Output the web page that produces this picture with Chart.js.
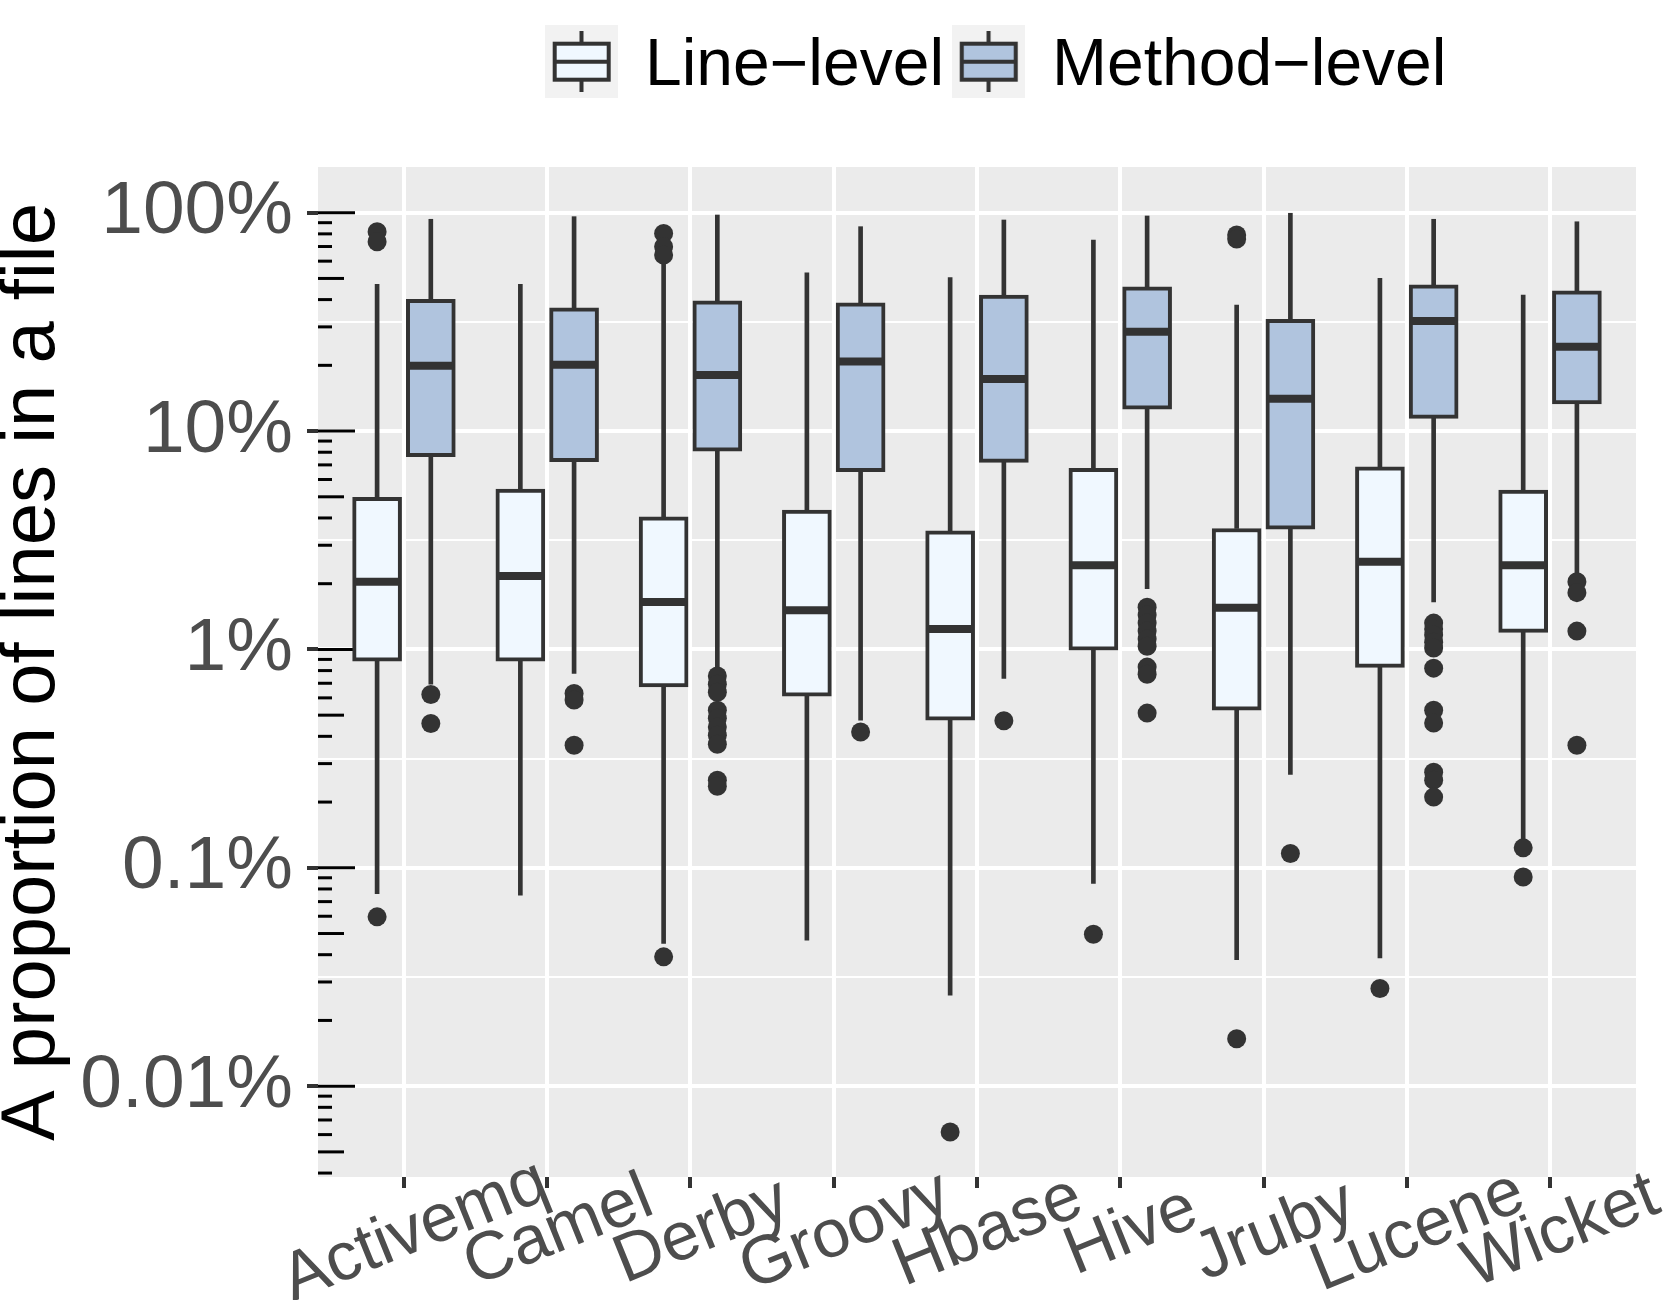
<!DOCTYPE html>
<html>
<head>
<meta charset="utf-8">
<title>Line-level vs Method-level proportions</title>
<script src="https://cdn.jsdelivr.net/npm/chart.js@4.4.0/dist/chart.umd.min.js"></script>
<style>
  html, body { margin: 0; padding: 0; background: #ffffff; }
  #wrap { width: 1667px; height: 1300px; position: relative; }
</style>
</head>
<body>
<div id="wrap"><canvas id="chart"></canvas></div>
<script>
// --- data (values in % of lines in a file) ---
const projects = ['Activemq', 'Camel', 'Derby', 'Groovy', 'Hbase', 'Hive', 'Jruby', 'Lucene', 'Wicket'];
const seriesNames = ['Line\u2212level', 'Method\u2212level'];

// Line-level boxes
const lineLow    = [0.0762, 0.0749, 0.045, 0.0466, 0.0261, 0.0847, 0.038, 0.0387, 0.136];
const lineQ1     = [0.884, 0.884, 0.674, 0.611, 0.474, 0.993, 0.527, 0.827, 1.197];
const lineMedian = [2.04, 2.17, 1.65, 1.51, 1.24, 2.43, 1.55, 2.52, 2.43];
const lineQ3     = [4.97, 5.42, 4.05, 4.35, 3.49, 6.75, 3.58, 6.86, 5.37];
const lineHigh   = [47.0, 47.0, 59.5, 53.1, 50.4, 75.0, 37.8, 50.1, 42.0];
const lineOutliers = [
    [81.8, 73.6, 0.0596],
    [],
    [80.4, 69.9, 64.0, 0.0391],
    [],
    [0.00617],
    [0.0496],
    [79.0, 75.8, 0.0165],
    [0.028],
    [0.1234, 0.0908]
];

// Method-level boxes
const methodLow    = [0.693, 0.776, 0.804, 0.474, 0.737, 1.90, 0.268, 1.65, 2.23];
const methodQ1     = [7.63, 7.24, 8.10, 6.51, 7.19, 12.6, 3.55, 11.43, 13.3];
const methodMedian = [19.9, 20.1, 18.05, 20.8, 17.3, 28.5, 14.06, 31.9, 24.3];
const methodQ3     = [40.1, 36.7, 39.5, 38.7, 42.0, 45.8, 32.5, 46.7, 43.9];
const methodHigh   = [93.3, 95.9, 97.6, 86.3, 92.6, 96.6, 99.4, 93.3, 90.9];
const methodOutliers = [
    [0.622, 0.458],
    [0.629, 0.586, 0.364],
    [0.755, 0.693, 0.637, 0.527, 0.484, 0.441, 0.405, 0.368, 0.252, 0.236],
    [0.419],
    [0.471],
    [1.56, 1.436, 1.32, 1.213, 1.115, 1.035, 0.830, 0.770, 0.511],
    [0.1163],
    [1.32, 1.24, 1.163, 1.08, 1.014, 0.821, 0.527, 0.46, 0.274, 0.252, 0.2107],
    [2.04, 1.82, 1.213, 0.364]
];

// y axis
const yTicks = [0.01, 0.1, 1, 10, 100];
const yTickLabels = ['0.01%', '0.1%', '1%', '10%', '100%'];
const yMinorGrid = [0.0316, 0.316, 3.16, 31.6];

// --- styling ---
const FONT = '"Liberation Sans", Arial, Helvetica, sans-serif';
const DARK = '#333333';
const FILLS = ['#F0F8FF', '#B0C4DE'];
const DODGE = 0.1875;
const BOX_W = 49;

Chart.defaults.font.family = FONT;

// --- helpers to turn the stats into chart points ---
function whiskers(off, low, q1, q3, high) {
    const pts = [];
    projects.forEach((_, i) => {
        pts.push({ x: i + off, y: [low[i], q1[i]] });
        pts.push({ x: i + off, y: [q3[i], high[i]] });
    });
    return pts;
}
function boxes(off, q1, q3) {
    return projects.map((_, i) => ({ x: i + off, y: [q1[i], q3[i]] }));
}
function medians(off, med) {
    return projects.map((_, i) => ({ x: i + off, y: med[i] }));
}
function outliers(off, groups) {
    return groups.flatMap((vals, i) => vals.map(v => ({ x: i + off, y: v })));
}
function isDecade(v) {
    const l = Math.log10(v);
    return Math.abs(l - Math.round(l)) < 1e-6;
}

// legend key glyph (boxplot symbol on a grey key)
function makeKey(fill) {
    const c = document.createElement('canvas');
    c.width = 73; c.height = 73;
    const g = c.getContext('2d');
    g.fillStyle = '#F2F2F2';
    g.fillRect(0, 0, 73, 73);
    g.strokeStyle = DARK;
    g.lineWidth = 4;
    g.beginPath(); g.moveTo(36.5, 6); g.lineTo(36.5, 67); g.stroke();
    g.fillStyle = fill;
    g.fillRect(9.7, 18.7, 54, 36);
    g.strokeRect(9.7, 18.7, 54, 36);
    g.beginPath(); g.moveTo(9.7, 36.7); g.lineTo(63.7, 36.7); g.stroke();
    return c;
}
const keys = FILLS.map(makeKey);

// --- plugins ---
const panelBg = {
    id: 'panelBg',
    beforeDraw(chart) {
        const { ctx, chartArea: a } = chart;
        ctx.save();
        ctx.fillStyle = '#EBEBEB';
        ctx.fillRect(a.left, a.top, a.right - a.left, a.bottom - a.top);
        ctx.restore();
    }
};

// log ticks drawn inside the panel on the left edge
const logTicks = {
    id: 'logTicks',
    beforeDatasetsDraw(chart) {
        const { ctx, chartArea } = chart;
        const y = chart.scales.y;
        ctx.save();
        ctx.strokeStyle = '#000000';
        ctx.lineWidth = 3;
        for (let e = -3; e <= 2; e++) {
            for (let m = 1; m <= 9; m++) {
                const v = m * Math.pow(10, e);
                if (v < y.min || v > y.max) continue;
                const py = y.getPixelForValue(v);
                const len = m === 1 ? 37 : (m === 5 ? 26 : 14);
                ctx.beginPath();
                ctx.moveTo(chartArea.left, py);
                ctx.lineTo(chartArea.left + len, py);
                ctx.stroke();
            }
        }
        ctx.restore();
    }
};

// rotated category labels, centred under each tick
const xLabels = {
    id: 'xLabels',
    afterDraw(chart) {
        const { ctx, chartArea } = chart;
        const x = chart.scales.x;
        ctx.save();
        ctx.font = '68px ' + FONT;
        ctx.fillStyle = '#4D4D4D';
        ctx.textAlign = 'center';
        ctx.textBaseline = 'alphabetic';
        projects.forEach((name, i) => {
            ctx.save();
            ctx.translate(x.getPixelForValue(i), chartArea.bottom + 27);
            ctx.rotate(-22 * Math.PI / 180);
            ctx.fillText(name, 0, 49);
            ctx.restore();
        });
        ctx.restore();
    }
};

// legend on top: boxplot key + label for each series
const legendKeys = {
    id: 'legendKeys',
    afterDraw(chart) {
        const { ctx } = chart;
        ctx.save();
        ctx.font = '66px ' + FONT;
        ctx.fillStyle = '#000000';
        ctx.textAlign = 'left';
        ctx.textBaseline = 'alphabetic';
        let x = 545;
        seriesNames.forEach((name, i) => {
            ctx.drawImage(keys[i], x, 25);
            ctx.fillText(name, x + 100, 85);
            x += 100 + ctx.measureText(name).width + 8;
        });
        ctx.restore();
    }
};

// --- chart ---
const barBase = { type: 'bar', grouped: false, xAxisID: 'x', yAxisID: 'y', borderSkipped: false };

new Chart(document.getElementById('chart'), {
    type: 'bar',
    data: {
        datasets: [
            { ...barBase, label: 'Line whiskers', data: whiskers(-DODGE, lineLow, lineQ1, lineQ3, lineHigh),
              backgroundColor: DARK, barThickness: 4, borderWidth: 0, order: 4 },
            { ...barBase, label: 'Method whiskers', data: whiskers(DODGE, methodLow, methodQ1, methodQ3, methodHigh),
              backgroundColor: DARK, barThickness: 4, borderWidth: 0, order: 4 },
            { ...barBase, label: seriesNames[0], data: boxes(-DODGE, lineQ1, lineQ3),
              backgroundColor: FILLS[0], borderColor: DARK, borderWidth: 4, barThickness: BOX_W, order: 3 },
            { ...barBase, label: seriesNames[1], data: boxes(DODGE, methodQ1, methodQ3),
              backgroundColor: FILLS[1], borderColor: DARK, borderWidth: 4, barThickness: BOX_W, order: 3 },
            { type: 'scatter', label: 'Line median', data: medians(-DODGE, lineMedian), xAxisID: 'x', yAxisID: 'y',
              pointStyle: 'line', pointRadius: 23, pointBorderWidth: 8, pointBorderColor: DARK, order: 2 },
            { type: 'scatter', label: 'Method median', data: medians(DODGE, methodMedian), xAxisID: 'x', yAxisID: 'y',
              pointStyle: 'line', pointRadius: 23, pointBorderWidth: 8, pointBorderColor: DARK, order: 2 },
            { type: 'scatter', label: 'Line outliers', data: outliers(-DODGE, lineOutliers), xAxisID: 'x', yAxisID: 'y',
              pointRadius: 9.5, pointBackgroundColor: DARK, pointBorderWidth: 0, order: 1 },
            { type: 'scatter', label: 'Method outliers', data: outliers(DODGE, methodOutliers), xAxisID: 'x', yAxisID: 'y',
              pointRadius: 9.5, pointBackgroundColor: DARK, pointBorderWidth: 0, order: 1 }
        ]
    },
    options: {
        responsive: true,
        maintainAspectRatio: false,
        animation: false,
        events: [],
        layout: { padding: { top: 167, right: 27, bottom: 0, left: 0 } },
        plugins: {
            tooltip: { enabled: false },
            legend: { display: false }
        },
        scales: {
            x: {
                type: 'linear',
                position: 'bottom',
                min: -0.6,
                max: 8.6,
                bounds: 'data',
                offset: false,
                border: { display: false },
                grid: { offset: false, color: '#FFFFFF', lineWidth: 4, drawTicks: true,
                        tickLength: 11, tickColor: DARK, tickWidth: 4 },
                ticks: { display: false, autoSkip: false },
                afterBuildTicks: s => { s.ticks = projects.map((_, i) => ({ value: i })); },
                afterFit: s => { s.height = 123; }
            },
            y: {
                type: 'logarithmic',
                position: 'left',
                min: Math.pow(10, -2.416),
                max: Math.pow(10, 2.2093),
                bounds: 'data',
                border: { display: false },
                grid: {
                    color: '#FFFFFF',
                    lineWidth: c => (c.tick && isDecade(c.tick.value)) ? 4 : 2,
                    drawTicks: true,
                    tickLength: 11,
                    tickWidth: 4,
                    tickColor: c => (c.tick && isDecade(c.tick.value)) ? DARK : 'rgba(0,0,0,0)'
                },
                ticks: {
                    autoSkip: false,
                    padding: 14,
                    color: '#4D4D4D',
                    font: { size: 75 },
                    callback: v => {
                        const k = yTicks.findIndex(t => Math.abs(t - v) / t < 1e-6);
                        return k >= 0 ? yTickLabels[k] : '';
                    }
                },
                afterBuildTicks: s => {
                    s.ticks = yTicks.concat(yMinorGrid).sort((a, b) => a - b).map(v => ({ value: v }));
                },
                afterFit: s => { s.width = 318; },
                title: {
                    display: true,
                    text: 'A proportion of lines in a file',
                    color: '#000000',
                    font: { size: 76, lineHeight: 0.86 },
                    padding: { top: 0, bottom: 0 }
                }
            }
        }
    },
    plugins: [panelBg, logTicks, xLabels, legendKeys]
});
</script>
</body>
</html>
